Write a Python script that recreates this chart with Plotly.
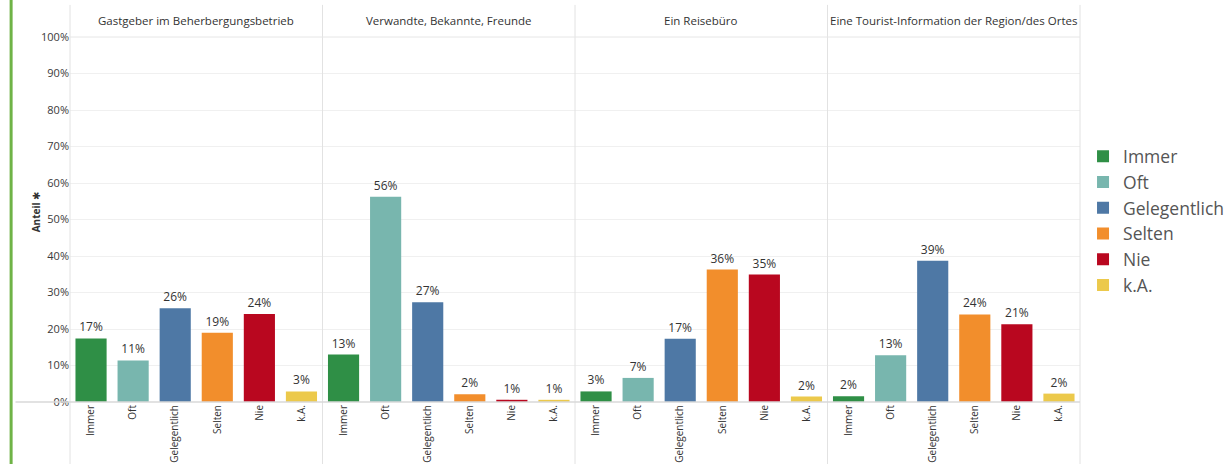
import plotly.graph_objects as go

panels = ["Gastgeber im Beherbergungsbetrieb", "Verwandte, Bekannte, Freunde",
          "Ein Reisebüro", "Eine Tourist-Information der Region/des Ortes"]
categories = ["Immer", "Oft", "Gelegentlich", "Selten", "Nie", "k.A."]
colors = ["#2f8f46", "#78b6ae", "#4e78a5", "#f28e2c", "#b9071f", "#ecc94b"]

values_gastgeber = [17.4, 11.4, 25.7, 19.0, 24.1, 2.9]
values_verwandte = [13.0, 56.2, 27.3, 2.1, 0.6, 0.6]
values_reisebuero = [2.9, 6.6, 17.3, 36.3, 34.9, 1.5]
values_touristinfo = [1.6, 12.8, 38.7, 24.0, 21.3, 2.3]
all_values = [values_gastgeber, values_verwandte, values_reisebuero, values_touristinfo]

y_ticks = list(range(0, 101, 10))
y_ticklabels = [f"{v}%" for v in y_ticks]

FONT = "Open Sans"
fig = go.Figure()

n = len(panels)
for p, vals in enumerate(all_values):
    ax = "" if p == 0 else str(p + 1)
    for i, cat in enumerate(categories):
        fig.add_trace(go.Bar(
            x=[cat], y=[vals[i]], name=cat,
            marker=dict(color=colors[i], line=dict(width=0)),
            width=0.74,
            text=[f"{round(vals[i]):.0f}%"], textposition="outside",
            textfont=dict(size=12, color="#333333", family=FONT),
            cliponaxis=False,
            legendgroup=cat, showlegend=(p == 0),
            xaxis="x" + ax, yaxis="y" + ax,
            hovertemplate=f"{panels[p]}<br>{cat}: %{{y:.1f}}%<extra></extra>",
        ))

layout = dict(
    width=1230, height=464,
    margin=dict(l=70, r=150, t=37, b=62, autoexpand=False),
    paper_bgcolor="white", plot_bgcolor="white",
    barmode="overlay",
    font=dict(family=FONT, color="#333333"),
    legend=dict(x=1.003, y=0.722, xanchor="left", yanchor="top",
                font=dict(size=17.5, color="#555555", family=FONT),
                tracegroupgap=0, itemwidth=30, bgcolor="rgba(0,0,0,0)"),
    showlegend=True,
)

for p in range(n):
    ax = "" if p == 0 else str(p + 1)
    layout["xaxis" + ax] = dict(
        domain=[p / n, (p + 1) / n], type="category",
        categoryorder="array", categoryarray=categories,
        range=[-0.5, len(categories) - 0.5],
        tickangle=-90, tickfont=dict(size=10, color="#333333", family=FONT),
        showgrid=False, showline=False, zeroline=False, ticks="",
        anchor="y" + ax, fixedrange=True,
    )
    ydict = dict(
        range=[0, 100], tickvals=y_ticks, ticktext=y_ticklabels,
        showgrid=True, gridcolor="#f0f0f0", gridwidth=1,
        zeroline=False, showline=False, ticks="",
        anchor="x" + ax, fixedrange=True,
        tickfont=dict(size=11, color="#3a3a3a", family=FONT),
    )
    if p > 0:
        ydict["showticklabels"] = False
        ydict["matches"] = "y"
    layout["yaxis" + ax] = ydict

fig.update_layout(**layout)

shapes = []
# panel separators
for p in range(n + 1):
    shapes.append(dict(type="line", xref="paper", yref="paper",
                       x0=p / n, x1=p / n, y0=-0.175, y1=1.088,
                       line=dict(color="#e2e2e2", width=1)))
# header line
shapes.append(dict(type="line", xref="paper", yref="paper",
                   x0=0, x1=1, y0=1, y1=1, line=dict(color="#e6e6e6", width=1)))
# baseline
shapes.append(dict(type="line", xref="paper", yref="paper",
                   x0=-0.054, x1=1, y0=0, y1=0, line=dict(color="#d9d9d9", width=1.5)))
# green selection bar at left
shapes.append(dict(type="line", xref="paper", yref="paper",
                   x0=-0.0583, x1=-0.0583, y0=-0.2, y1=1.12,
                   line=dict(color="#6fb347", width=3)))
fig.update_layout(shapes=shapes)

annotations = []
for p, title in enumerate(panels):
    annotations.append(dict(text=title, xref="paper", yref="paper",
                            x=(p + 0.5) / n, y=1, yshift=17, showarrow=False,
                            xanchor="center", yanchor="middle",
                            font=dict(size=11.5, color="#333333", family=FONT)))
annotations.append(dict(text="<b>Anteil</b> ✱", xref="paper", yref="paper",
                        x=-0.0425, y=0.52, textangle=-90, showarrow=False,
                        font=dict(size=10, color="#333333", family=FONT)))
fig.update_layout(annotations=annotations)

fig.write_html("out.html", config={"displayModeBar": False},
               post_script="document.body.style.margin='0px';document.body.style.overflow='hidden';")
